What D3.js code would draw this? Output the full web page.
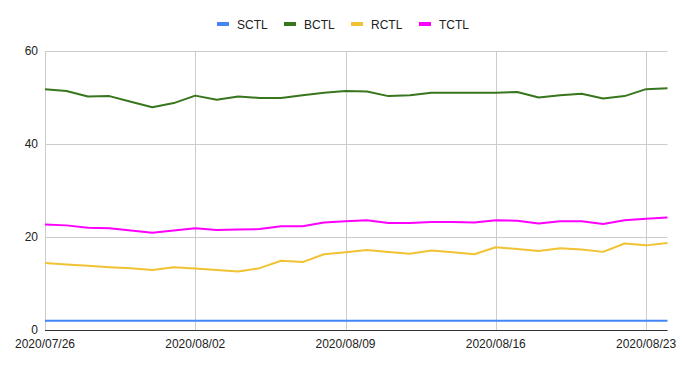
<!DOCTYPE html>
<html>
<head>
<meta charset="utf-8">
<script src="https://cdn.jsdelivr.net/npm/d3@7"></script>
<style>
  body { margin: 0; background: #fff; }
  text { font-family: "Liberation Sans", Arial, sans-serif; }
</style>
</head>
<body>
<div id="chart"></div>
<script>
// daily values, 2020/07/26 .. 2020/08/24
const dates = d3.timeDay.range(new Date(2020, 6, 26), new Date(2020, 7, 25));
const seriesNames = ["SCTL", "BCTL", "RCTL", "TCTL"];
const colors = ["#4285f4", "#38761d", "#f1c232", "#ff00ff"];

const sctl = [2, 2, 2, 2, 2, 2, 2, 2, 2, 2, 2, 2, 2, 2, 2,
              2, 2, 2, 2, 2, 2, 2, 2, 2, 2, 2, 2, 2, 2, 2];
const bctl = [51.8, 51.4, 50.2, 50.3, 49.1, 47.9, 48.8, 50.4, 49.5, 50.2, 49.9, 49.9, 50.5, 51.0, 51.4,
              51.3, 50.3, 50.5, 51.0, 51.0, 51.0, 51.0, 51.2, 50.0, 50.5, 50.8, 49.8, 50.3, 51.8, 52.0];
const rctl = [14.4, 14.1, 13.8, 13.5, 13.3, 12.9, 13.5, 13.2, 12.9, 12.6, 13.3, 14.9, 14.6, 16.3, 16.7,
              17.2, 16.8, 16.4, 17.1, 16.7, 16.3, 17.8, 17.4, 17.0, 17.6, 17.3, 16.8, 18.6, 18.2, 18.7];
const tctl = [22.7, 22.5, 22.0, 21.9, 21.4, 20.9, 21.4, 21.9, 21.5, 21.6, 21.7, 22.3, 22.3, 23.1, 23.4,
              23.6, 23.0, 23.0, 23.2, 23.2, 23.1, 23.6, 23.5, 22.9, 23.4, 23.4, 22.8, 23.6, 23.9, 24.2];
const yTicks = [0, 20, 40, 60];
const xTicks = [new Date(2020, 6, 26), new Date(2020, 7, 2), new Date(2020, 7, 9),
                new Date(2020, 7, 16), new Date(2020, 7, 23)];

const allSeries = [sctl, bctl, rctl, tctl];

const width = 686, height = 369;
const margin = {top: 51, right: 18, bottom: 39, left: 45};

const svg = d3.select("#chart").append("svg")
    .attr("width", width)
    .attr("height", height);

const x = d3.scaleTime()
    .domain(d3.extent(dates))
    .range([margin.left, width - margin.right - 0.5]);
const y = d3.scaleLinear()
    .domain([0, 60])
    .range([height - margin.bottom, margin.top]);

// gridlines
svg.append("g").selectAll("line.h")
    .data(yTicks.filter(d => d > 0))
    .join("line")
    .attr("x1", margin.left).attr("x2", x.range()[1])
    .attr("y1", d => Math.round(y(d)) + 0.5).attr("y2", d => Math.round(y(d)) + 0.5)
    .attr("stroke", "#cccccc");
svg.append("g").selectAll("line.v")
    .data(xTicks)
    .join("line")
    .attr("x1", d => Math.round(x(d)) + 0.5).attr("x2", d => Math.round(x(d)) + 0.5)
    .attr("y1", y(60)).attr("y2", y(0))
    .attr("stroke", "#cccccc");

// y labels
svg.append("g").selectAll("text")
    .data(yTicks)
    .join("text")
    .attr("x", 38)
    .attr("y", d => y(d) + 4)
    .attr("text-anchor", "end")
    .attr("font-size", 12)
    .attr("fill", "#222")
    .text(d => d);

// x labels
const fmt = d3.timeFormat("%Y/%m/%d");
svg.append("g").selectAll("text")
    .data(xTicks)
    .join("text")
    .attr("x", d => x(d))
    .attr("y", 348)
    .attr("text-anchor", "middle")
    .attr("font-size", 12)
    .attr("fill", "#222")
    .text(d => fmt(d));

// lines
const line = d3.line()
    .x((d, i) => x(dates[i]))
    .y(d => y(d));
svg.append("g").selectAll("path")
    .data(allSeries)
    .join("path")
    .attr("fill", "none")
    .attr("stroke", (d, i) => colors[i])
    .attr("stroke-width", 2)
    .attr("stroke-linejoin", "round")
    .attr("d", line);

// baseline
svg.append("line")
    .attr("x1", margin.left).attr("x2", x.range()[1])
    .attr("y1", Math.round(y(0)) + 0.5).attr("y2", Math.round(y(0)) + 0.5)
    .attr("stroke", "#333333");

// legend
const legendX = [217, 284, 351, 419];
const lg = svg.append("g").selectAll("g")
    .data(seriesNames)
    .join("g")
    .attr("transform", (d, i) => `translate(${legendX[i]},24)`);
lg.append("rect")
    .attr("x", 0).attr("y", -2)
    .attr("width", 12).attr("height", 4)
    .attr("fill", (d, i) => colors[i]);
lg.append("text")
    .attr("x", 20).attr("y", 4.5)
    .attr("font-size", 12)
    .attr("fill", "#222")
    .text(d => d);
</script>
</body>
</html>
